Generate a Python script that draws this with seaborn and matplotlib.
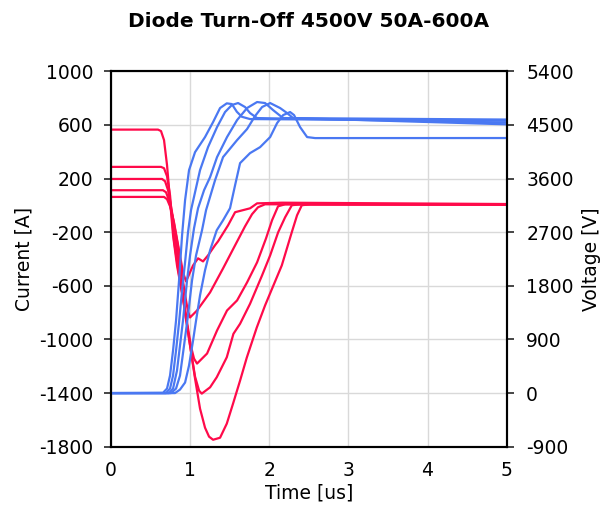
import pandas as pd
import seaborn as sns
import matplotlib.pyplot as plt

# diode current traces, time [us] and current [A]
t_i1 = [0, 0.594, 0.632, 0.670, 0.708, 0.746, 0.784, 0.834, 0.910, 0.999, 1.062, 1.125, 1.188, 1.239,
        1.290, 1.378, 1.463, 1.542, 1.631, 1.716, 1.842, 1.947, 2.158, 2.284, 2.351, 2.411, 2.516, 5.0]
i_1 = [565, 565, 554, 487, 300, 38, -223, -448, -694, -1045, -1292, -1516, -1658, -1725,
       -1748, -1733, -1628, -1479, -1307, -1135, -911, -746, -448, -201, -74, 1, 8, 6]

t_i2 = [0, 0.632, 0.670, 0.708, 0.746, 0.796, 0.847, 0.910, 0.999, 1.062, 1.113, 1.147, 1.252, 1.336,
        1.463, 1.547, 1.631, 1.757, 1.909, 2.011, 2.112, 2.200, 2.285, 2.389, 5.0]
i_2 = [287, 287, 277, 217, 75, -261, -470, -694, -1045, -1277, -1382, -1404, -1357, -1282,
       -1133, -958, -883, -734, -522, -373, -201, -89, 1, 8, 5]

t_i3 = [0, 0.645, 0.683, 0.721, 0.771, 0.822, 0.872, 0.923, 0.973, 1.011, 1.049, 1.087, 1.214, 1.340,
        1.466, 1.593, 1.719, 1.846, 1.959, 2.035, 2.111, 2.200, 5.0]
i_3 = [197, 197, 180, 113, -51, -283, -500, -724, -918, -1053, -1143, -1180, -1105, -933,
       -784, -709, -575, -425, -246, -111, -7, 8, 6]

t_i4 = [0, 0.657, 0.695, 0.733, 0.784, 0.847, 0.898, 0.948, 0.973, 0.999, 1.087, 1.252, 1.416, 1.568,
        1.694, 1.782, 1.858, 1.947, 5.0]
i_4 = [113, 113, 98, 38, -96, -305, -522, -709, -791, -836, -784, -649, -470, -298,
       -156, -66, -14, 8, 8]

t_i5 = [0, 0.670, 0.708, 0.746, 0.796, 0.860, 0.910, 0.948, 1.037, 1.100, 1.163, 1.226, 1.315, 1.353,
        1.479, 1.568, 1.757, 1.846, 2.162, 5.0]
i_5 = [63, 63, 46, -7, -126, -336, -500, -567, -448, -395, -418, -373, -297, -268,
       -149, -51, -22, 15, 20, 10]

# diode voltage traces, time [us] and voltage [V]
t_v1 = [0, 0.657, 0.708, 0.746, 0.784, 0.822, 0.860, 0.898, 0.936, 0.986, 1.062, 1.188, 1.290, 1.378,
        1.463, 1.527, 1.590, 1.653, 1.757, 5.0]
v_1 = [0, 5, 76, 295, 715, 1219, 1892, 2648, 3237, 3741, 4043, 4296, 4548, 4783,
       4862, 4850, 4721, 4637, 4598, 4570]

t_v2 = [0, 0.695, 0.746, 0.784, 0.822, 0.860, 0.898, 0.936, 0.973, 1.011, 1.125, 1.226, 1.340, 1.441,
        1.527, 1.606, 1.694, 1.757, 1.846, 5.0]
v_2 = [0, 0, 76, 295, 715, 1186, 1724, 2195, 2699, 3069, 3741, 4127, 4464, 4716,
       4834, 4867, 4800, 4699, 4615, 4540]

t_v3 = [0, 0.733, 0.784, 0.834, 0.872, 0.910, 0.961, 0.999, 1.049, 1.100, 1.176, 1.252, 1.340, 1.466,
        1.593, 1.719, 1.846, 1.947, 2.048, 2.174, 5.0]
v_3 = [0, 0, 76, 379, 800, 1219, 1892, 2312, 2766, 3102, 3405, 3623, 3960, 4296,
       4581, 4783, 4884, 4867, 4749, 4615, 4590]

t_v4 = [0, 0.759, 0.822, 0.872, 0.923, 0.973, 1.024, 1.075, 1.150, 1.201, 1.315, 1.416, 1.593, 1.719,
        1.820, 1.909, 2.011, 2.137, 2.225, 2.301, 5.0]
v_4 = [0, 0, 76, 295, 800, 1304, 1892, 2312, 2732, 3069, 3573, 3960, 4245, 4430,
       4648, 4800, 4867, 4783, 4699, 4615, 4510]

t_v5 = [0, 0.809, 0.872, 0.936, 0.986, 1.037, 1.075, 1.125, 1.188, 1.252, 1.336, 1.416, 1.504, 1.568,
        1.631, 1.757, 1.884, 2.011, 2.099, 2.175, 2.263, 2.313, 2.389, 2.478, 2.579, 5.0]
v_5 = [0, 0, 59, 177, 463, 883, 1219, 1640, 2060, 2396, 2732, 2900, 3102, 3489,
       3859, 4027, 4127, 4296, 4531, 4665, 4716, 4665, 4464, 4296, 4279, 4280]

current_ticks = [-1800, -1400, -1000, -600, -200, 200, 600, 1000]
voltage_ticks = [-900, 0, 900, 1800, 2700, 3600, 4500, 5400]
time_ticks = [0, 1, 2, 3, 4, 5]

RED = "#FF0A4A"
BLUE = "#4A78F2"


def long_frame(pairs, col):
    parts = []
    for k, (t, y) in enumerate(pairs):
        parts.append(pd.DataFrame({"t": t, col: y, "trace": f"{col}{k}"}))
    return pd.concat(parts, ignore_index=True)


df_i = long_frame([(t_i1, i_1), (t_i2, i_2), (t_i3, i_3), (t_i4, i_4), (t_i5, i_5)], "I")
df_v = long_frame([(t_v1, v_1), (t_v2, v_2), (t_v3, v_3), (t_v4, v_4), (t_v5, v_5)], "V")

sns.set_style("white")
plt.rcParams["font.family"] = ["DejaVu Sans"]
plt.rcParams["axes.unicode_minus"] = False

fig = plt.figure(figsize=(6, 5.11), dpi=100)
ax = fig.add_axes([0.185, 0.1258, 0.6595, 0.7347])
ax2 = ax.twinx()

sns.lineplot(data=df_i, x="t", y="I", hue="trace", estimator=None, sort=False,
             palette={k: RED for k in df_i["trace"].unique()}, lw=1.6, legend=False, ax=ax)
sns.lineplot(data=df_v, x="t", y="V", hue="trace", estimator=None, sort=False,
             palette={k: BLUE for k in df_v["trace"].unique()}, lw=1.6, legend=False, ax=ax2)

ax.set_xlim(0, 5)
ax.set_ylim(-1800, 1000)
ax2.set_ylim(-900, 5400)
ax.set_xticks(time_ticks)
ax.set_yticks(current_ticks)
ax2.set_yticks(voltage_ticks)

ax.grid(True, color="#d9d9d9", lw=1)
ax.set_axisbelow(True)

for a in (ax, ax2):
    for s in a.spines.values():
        s.set_color("black")
        s.set_linewidth(1.5)

ax.tick_params(axis="x", direction="inout", length=8, width=1.2, labelsize=13.5, pad=6,
               labelcolor="black")
ax.tick_params(axis="y", direction="out", length=5, width=1.2, labelsize=13.5, left=True,
               pad=7.5, labelcolor="black")
ax2.tick_params(axis="y", direction="out", length=5, width=1.2, labelsize=13.5, right=True,
                pad=9, labelcolor="black")

ax.set_xlabel("Time [us]", fontsize=13.5, labelpad=3, color="black")
ax.set_ylabel("Current [A]", fontsize=13.5, labelpad=4, color="black")
ax2.set_ylabel("Voltage [V]", fontsize=13.5, labelpad=6, color="black")

ax.set_title("Diode Turn-Off 4500V 50A-600A", fontsize=14.5, fontweight="bold", pad=32,
             color="black")

fig.savefig("out.png", dpi=100)
